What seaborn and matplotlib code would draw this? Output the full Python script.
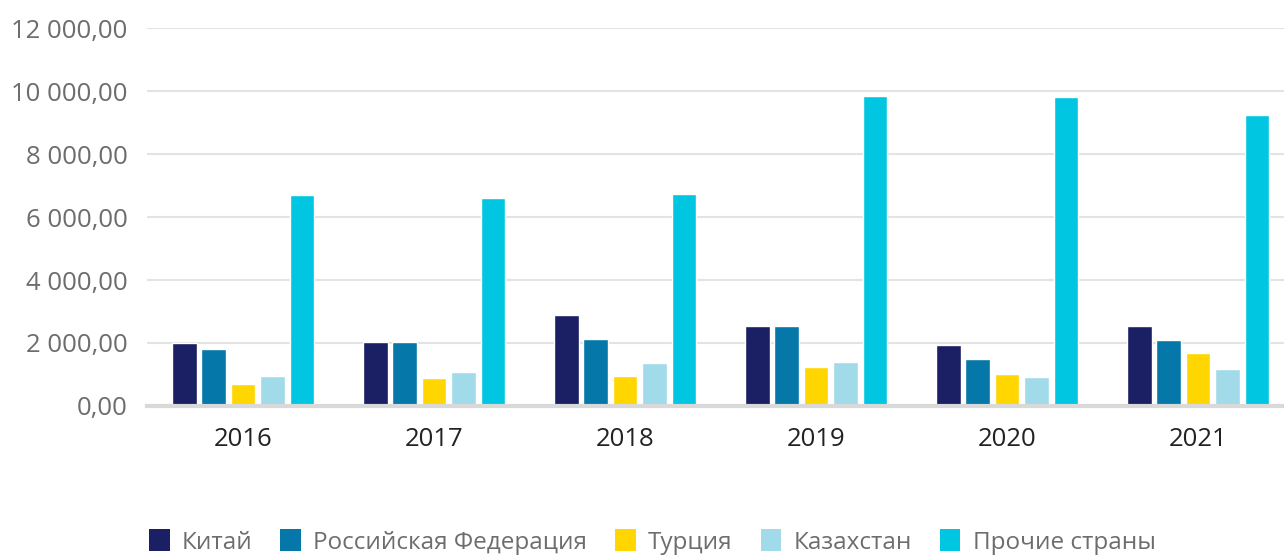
import pandas as pd
import matplotlib.pyplot as plt
import seaborn as sns
from matplotlib.patches import Patch
from matplotlib.ticker import FuncFormatter

# Data
years = ["2016", "2017", "2018", "2019", "2020", "2021"]
countries = ["Китай", "Российская Федерация", "Турция", "Казахстан", "Прочие страны"]
china = [1990, 2030, 2880, 2530, 1930, 2530]
russia = [1820, 2030, 2120, 2530, 1490, 2090]
turkey = [690, 880, 950, 1230, 1010, 1680]
kazakhstan = [950, 1070, 1360, 1390, 920, 1170]
others = [6690, 6590, 6720, 9830, 9800, 9230]
colors = ["#1b1f63", "#0577a9", "#ffd600", "#a1dbe9", "#00c6e1"]

series = [china, russia, turkey, kazakhstan, others]
rows = []
for name, vals in zip(countries, series):
    for y, v in zip(years, vals):
        rows.append({"year": y, "country": name, "value": v})
df = pd.DataFrame(rows)

sns.set_style("white")
plt.rcParams["font.family"] = ["Open Sans", "DejaVu Sans"]

fig = plt.figure(figsize=(12.84, 5.56), dpi=100)
ax = fig.add_axes([0.1145, 0.2698, 0.8855, 0.6798])

sns.barplot(data=df, x="year", y="value", hue="country", order=years,
            hue_order=countries, palette=colors, width=0.77, gap=0.16,
            saturation=1, legend=False, ax=ax)

ax.set_xlim(-0.503, 5.45)
ax.set_ylim(0, 12000)
ax.set_yticks(range(0, 12001, 2000))
ax.yaxis.set_major_formatter(FuncFormatter(
    lambda v, p: f"{v:,.2f}".replace(",", " ").replace(".", ",")))
ax.grid(axis="y", color="#e3e3e3", linewidth=1.5)
ax.set_axisbelow(True)
for s in ["top", "right", "left"]:
    ax.spines[s].set_visible(False)
ax.spines["bottom"].set_color("#d9d9d9")
ax.spines["bottom"].set_linewidth(3)
ax.tick_params(axis="y", length=0, pad=14, labelsize=18.5, labelcolor="#6d6d6d")
ax.tick_params(axis="x", length=0, pad=15, labelsize=18.5, labelcolor="#222222")
ax.set_xlabel("")
ax.set_ylabel("")

handles = [Patch(facecolor=c, edgecolor="none") for c in colors]
fig.legend(handles, countries, loc="center", bbox_to_anchor=(0.508, 0.025),
           ncol=5, frameon=False, fontsize=17.5, labelcolor="#6d6d6d",
           handlelength=0.85, handleheight=1.0, handletextpad=0.5,
           columnspacing=1.15)

fig.savefig("out.png", dpi=100)
